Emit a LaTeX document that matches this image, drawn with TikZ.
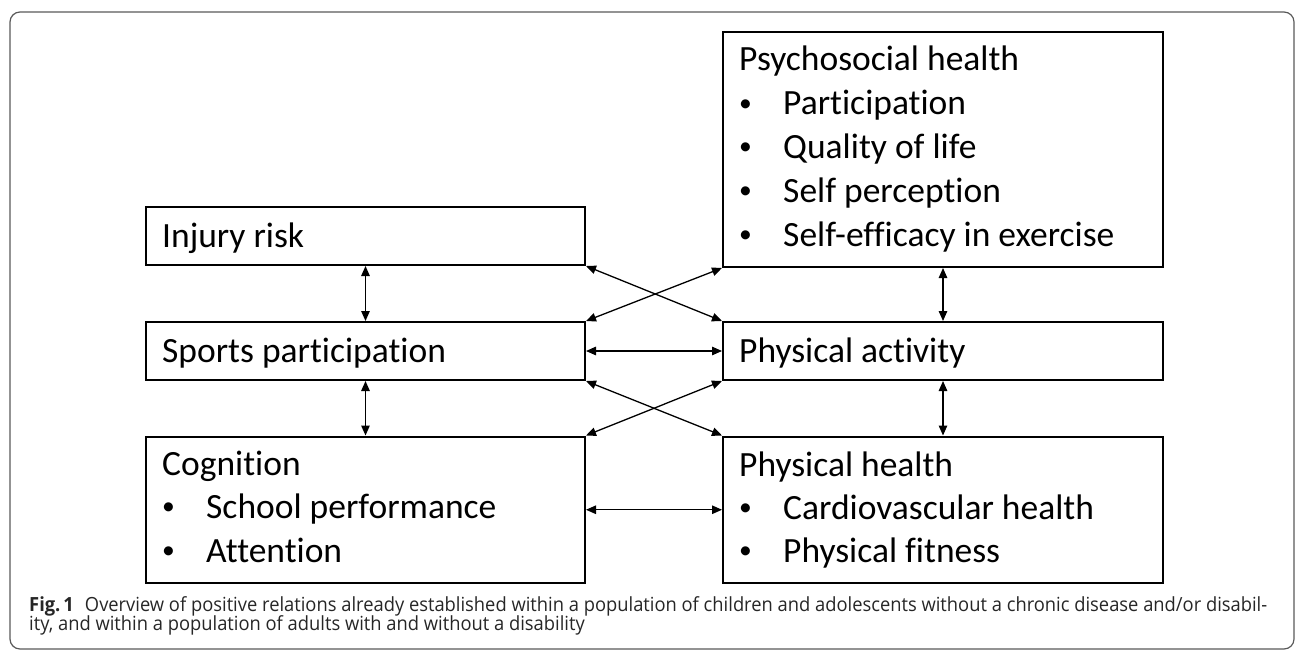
\documentclass[tikz,border=0pt]{standalone}
\usepackage{fontspec}
\usepackage{graphicx}
\setmainfont{Carlito}[Ligatures=NoCommon]
\newfontfamily\capfont{Open Sans}
\usetikzlibrary{arrows.meta}
\newlength{\capw}
\newcommand{\blt}[1]{\makebox[44pt][l]{\raisebox{3.2pt}{\scalebox{0.72}{\textbullet}}}#1}
\newcommand{\capone}{\textbf{Fig.\,1}\hspace{0.6em}Overview of positive relations already established within a population of children and adolescents without a chronic disease and/or disabil-}
\newcommand{\captwo}{ity, and within a population of adults with and without a disability}
\newcommand{\capsize}{\fontsize{19.5}{22}\selectfont}
\begin{document}%
\settowidth{\capw}{\capfont\capsize\capone}%
\pgfmathsetmacro{\capsx}{1238/\the\capw}%
\begin{tikzpicture}[x=1pt,y=-1pt,
  frame/.style={draw=black!65,line width=1.2pt,rounded corners=10pt},
  box/.style={draw,line width=2pt,inner sep=0pt,anchor=north west,minimum width=#1},
  box/.default=439pt,
  lbl/.style={font=\fontsize{35.5}{43.6}\selectfont,inner sep=0pt,anchor=base west},
  captxt/.style={font=\capfont\capsize,text=black!85,inner sep=0pt,anchor=base west},
  conn/.style={{Triangle[length=10pt,width=8.5pt]}-{Triangle[length=10pt,width=8.5pt]},line width=1.3pt}]
\useasboundingbox (0,0) rectangle (1295,650);
\draw[frame] (10,12) rectangle (1294,649);
% boxes
\node[box,minimum height=58pt] (injury) at (145,206) {};
\node[box,minimum height=58pt] (sports) at (145,321) {};
\node[box,minimum height=146.5pt] (cog) at (145,435.5) {};
\node[box=440pt,minimum height=235pt] (psy) at (722,31) {};
\node[box=440pt,minimum height=58pt] (pa) at (722,321) {};
\node[box=440pt,minimum height=146.5pt] (ph) at (722,435.5) {};
% texts
\node[lbl] (injuryT) at (162,247) {Injury risk};
\node[lbl] (sportsT) at (162,362) {Sports participation};
\node[lbl] (cogT) at (162,475) {Cognition};
\node[lbl] (cogA) at (162,518) {\blt{School performance}};
\node[lbl] (cogB) at (162,562) {\blt{Attention}};
\node[lbl] (psyT) at (739,71) {Psychosocial health};
\node[lbl] (psyA) at (739,115) {\blt{Participation}};
\node[lbl] (psyB) at (739,158) {\blt{Quality of life}};
\node[lbl] (psyC) at (739,202) {\blt{Self perception}};
\node[lbl] (psyD) at (739,246) {\blt{Self-efficacy in exercise}};
\node[lbl] (paT) at (739,362) {Physical activity};
\node[lbl] (phT) at (739,476) {Physical health};
\node[lbl] (phA) at (739,519) {\blt{Cardiovascular health}};
\node[lbl] (phB) at (739,562) {\blt{Physical fitness}};
% connectors
\draw[conn] (injury.south) -- (sports.north);
\draw[conn] (sports.south) -- (cog.north);
\draw[conn] (psy.south) -- (pa.north);
\draw[conn] (pa.south) -- (ph.north);
\draw[conn] (sports.east) -- (pa.west);
\draw[conn] (cog.east) -- (ph.west);
\draw[conn] (injury.south east) -- (pa.north west);
\draw[conn] (psy.south west) -- (sports.north east);
\draw[conn] (sports.south east) -- (ph.north west);
\draw[conn] (pa.south west) -- (cog.north east);
% caption
\node[captxt] (cap1) at (29,611) {\scalebox{\capsx}[1]{\capone}};
\node[captxt] (cap2) at (29,630) {\scalebox{\capsx}[1]{\captwo}};
\end{tikzpicture}%
\end{document}
